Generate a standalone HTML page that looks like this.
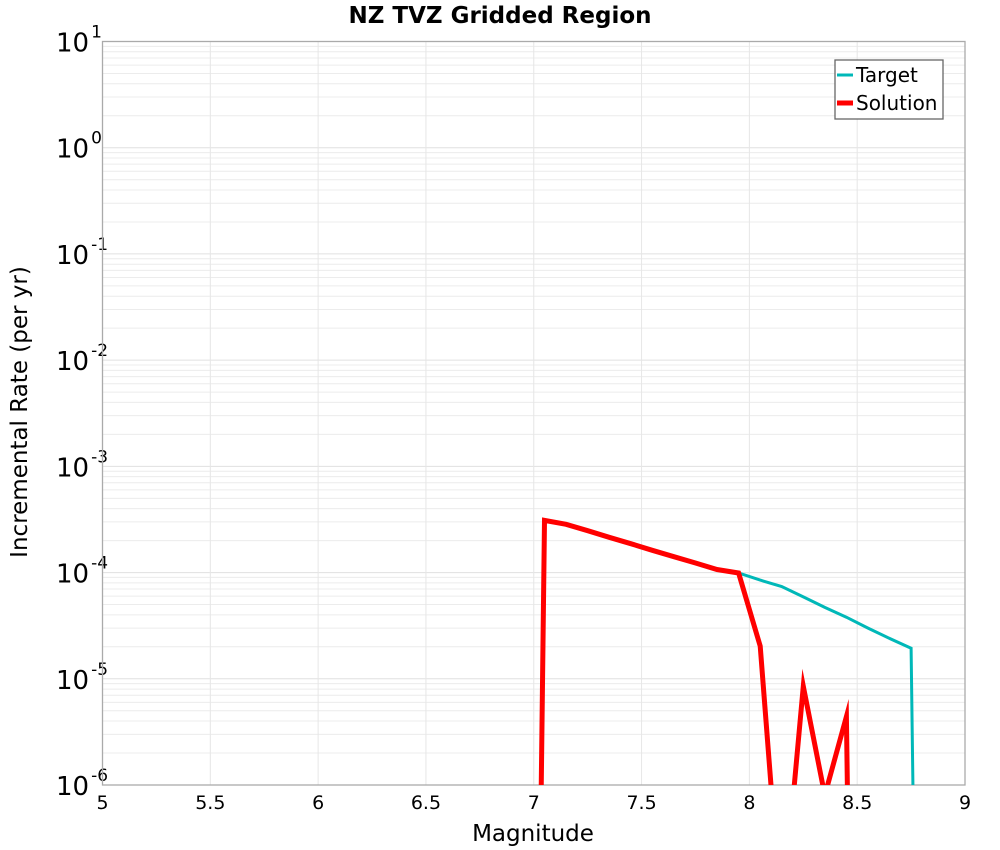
<!DOCTYPE html>
<html><head><meta charset="utf-8"><style>
html,body{margin:0;background:#fff;overflow:hidden;width:1000px;height:850px;}
svg{display:block;font-family:"DejaVu Sans","Liberation Sans",sans-serif;}
</style></head><body>
<svg id="chart" width="1000" height="850" viewBox="0 0 1000 850">
<text x="500" y="23" text-anchor="middle" font-size="23" font-weight="bold">NZ TVZ Gridded Region</text>
<g id="grid"></g>
<g id="axes"></g>
<defs><clipPath id="clip"><rect x="102.5" y="41.5" width="862.5" height="743.5"/></clipPath></defs>
<g id="series" clip-path="url(#clip)"></g>
<text x="533" y="841" text-anchor="middle" font-size="23">Magnitude</text>
<text transform="translate(27,412) rotate(-90)" text-anchor="middle" font-size="23">Incremental Rate (per yr)</text>
<g>
<rect x="835" y="60" width="108" height="59" fill="#fff" stroke="#666" stroke-width="1.3"/>
<line x1="837" y1="75" x2="853" y2="75" stroke="#00b8b8" stroke-width="3"/>
<text x="856" y="82" font-size="20">Target</text>
<line x1="837" y1="103" x2="853" y2="103" stroke="#ff0000" stroke-width="5"/>
<text x="856" y="110" font-size="20">Solution</text>
</g>
</svg>
<script>
const magnitudes=[6.95,7.05,7.15,7.25,7.35,7.45,7.55,7.65,7.75,7.85,7.95,8.05,8.15,8.25,8.35,8.45,8.55,8.65,8.75,8.85];
const targetRates=[1e-20,3.1e-4,2.85e-4,2.48e-4,2.15e-4,1.87e-4,1.62e-4,1.41e-4,1.23e-4,1.07e-4,9.9e-5,8.5e-5,7.4e-5,5.9e-5,4.7e-5,3.8e-5,3.0e-5,2.4e-5,1.94e-5,1e-20];
const solutionRates=[1e-20,3.1e-4,2.85e-4,2.48e-4,2.15e-4,1.87e-4,1.62e-4,1.41e-4,1.23e-4,1.07e-4,9.9e-5,2.03e-5,5e-8,8.5e-6,8e-7,4.4e-6,1e-20,1e-20,1e-20,1e-20];
const xTicks=[5,5.5,6,6.5,7,7.5,8,8.5,9];
const yExps=[-6,-5,-4,-3,-2,-1,0,1];
const NS='http://www.w3.org/2000/svg';
const L=102.5,R=965,T=41.5,B=785;
function xs(v){return L+(v-5)/4*(R-L);}
function ys(v){const lv=v>0?Math.log10(v):-20;return B-(lv+6)/7*(B-T);}
function mk(tag,attrs,parent){const e=document.createElementNS(NS,tag);for(const k in attrs)e.setAttribute(k,attrs[k]);parent.appendChild(e);return e;}
const grid=document.getElementById('grid'),axes=document.getElementById('axes'),series=document.getElementById('series');
for(let e=-6;e<1;e++)for(let m=1;m<10;m++){const y=ys(m*Math.pow(10,e));
const l=mk('line',{x1:L,x2:R,y1:y,y2:y,stroke:m===1?'#e0e0e0':'#ececec','stroke-width':1},grid);

}
xTicks.forEach(t=>{const x=xs(t);
const l=mk('line',{x1:x,x2:x,y1:T,y2:B,stroke:'#e6e6e6','stroke-width':1},grid);


const tx=mk('text',{x:x,y:809,'text-anchor':'middle','font-size':19},axes);tx.textContent=String(t);

});
yExps.forEach(e=>{const y=ys(Math.pow(10,e));
const tx=mk('text',{x:56,y:y+10,'text-anchor':'start','font-size':26},axes);
tx.textContent='10';
const sp=mk('tspan',{dx:2,dy:-14,'font-size':17},tx);sp.textContent=String(e);

});
const frame=mk('rect',{x:L,y:T,width:R-L,height:B-T,fill:'none',stroke:'#aaa','stroke-width':1.3},axes);


function path(vals){return vals.map((v,i)=>(i?'L':'M')+xs(magnitudes[i]).toFixed(1)+','+ys(v).toFixed(1)).join(' ');}
const pt=mk('path',{d:path(targetRates),fill:'none',stroke:'#00b8b8','stroke-width':3,'stroke-linejoin':'miter'},series);


const ps=mk('path',{d:path(solutionRates),fill:'none',stroke:'#ff0000','stroke-width':5,'stroke-linejoin':'miter','stroke-miterlimit':10},series);


</script>
</body></html>
